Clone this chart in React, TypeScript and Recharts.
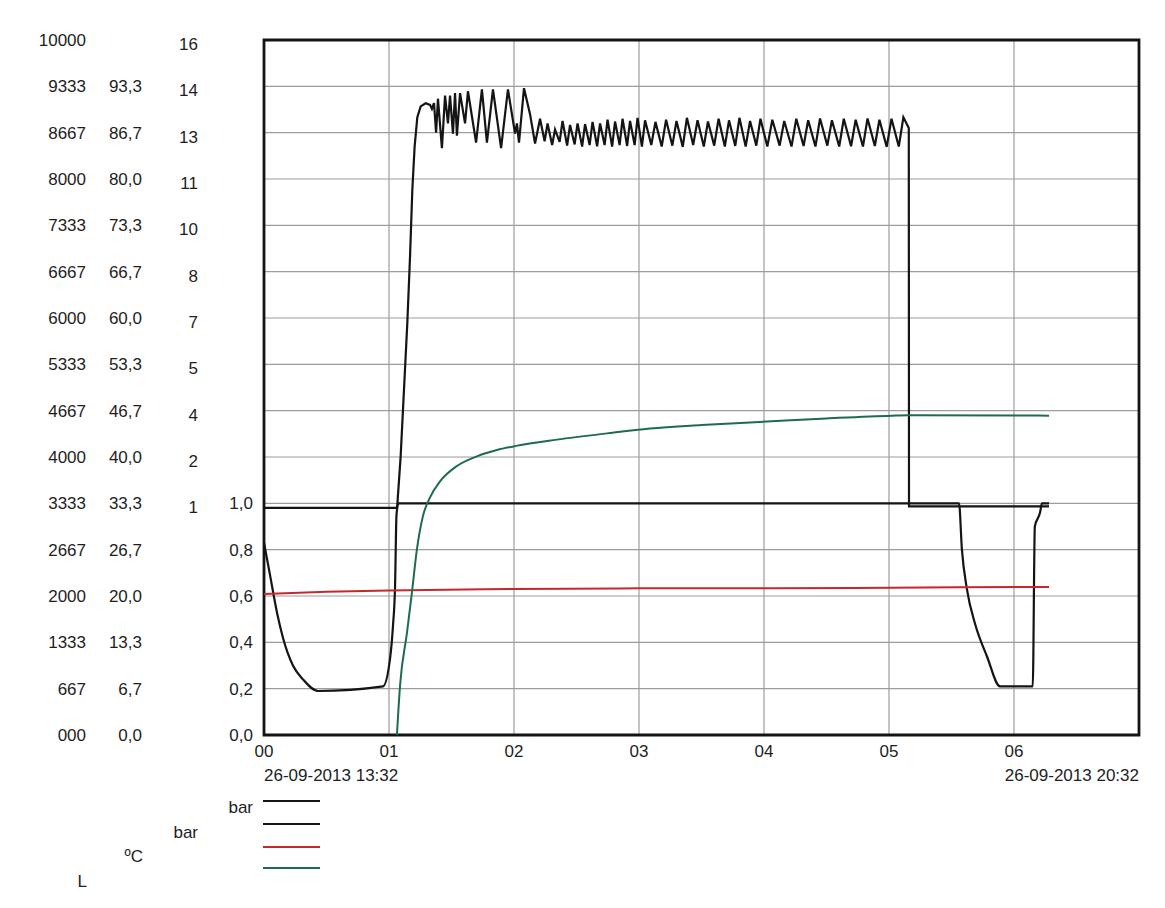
import React from 'react';
import { LineChart, Line, XAxis, YAxis, CartesianGrid, ReferenceArea, Legend } from 'recharts';

// time axis in minutes from 26-09-2013 13:32
const HOUR_TICKS = [0, 60, 120, 180, 240, 300, 360, 420];
const HOUR_LABELS = ['00', '01', '02', '03', '04', '05', '06', ''];
const START_LABEL = '26-09-2013 13:32';
const END_LABEL = '26-09-2013 20:32';

// low bar scale, one tick per grid row (bottom to top)
const BAR_TICKS = [0, 0.2, 0.4, 0.6, 0.8, 1.0, 1.2, 1.4, 1.6, 1.8, 2.0, 2.2, 2.4, 2.6, 2.8, 3.0];
const LITRE_LABELS = ['000', '667', '1333', '2000', '2667', '3333', '4000', '4667', '5333', '6000', '6667', '7333', '8000', '8667', '9333', '10000'];
const CELSIUS_LABELS = ['0,0', '6,7', '13,3', '20,0', '26,7', '33,3', '40,0', '46,7', '53,3', '60,0', '66,7', '73,3', '80,0', '86,7', '93,3', ''];
const BAR_HIGH_LABELS = ['', '', '', '', '', '1', '2', '4', '5', '7', '8', '10', '11', '13', '14', '16'];
const BAR_LOW_LABELS = ['0,0', '0,2', '0,4', '0,6', '0,8', '1,0', '', '', '', '', '', '', '', '', '', ''];

const SERIES_NAMES = ['vacuum', 'pressure', 'temperature', 'level'];
const LEGEND_UNITS = ['bar', 'bar', 'ºC', 'L'];

// [minutes, value]
const VACUUM: [number, number][] = [
  [0, 0.83], [2.9, 0.69], [6.2, 0.53], [9.1, 0.42], [13.9, 0.3], [18.7, 0.24], [25.9, 0.19],
  [57.1, 0.21], [60.5, 0.33], [61.9, 0.47], [62.9, 0.64], [63.6, 0.95], [64.5, 1.0],
  [333.6, 1.0], [335, 0.8], [337.4, 0.63], [341.3, 0.48], [347, 0.34], [353.3, 0.21],
  [369, 0.21], [370, 0.9], [372.5, 0.96], [373.4, 1.0], [376.8, 1.0],
];

const PRESSURE: [number, number][] = [
  [0, 0.85], [63.8, 0.85], [64.0, 0.96], [65.6, 2.53], [67.2, 4.69], [68.8, 6.85], [70.1, 9.0],
  [71.2, 11.15], [72.3, 12.55], [73.6, 13.5], [75.2, 13.85], [77.6, 13.95], [79.7, 13.9],
  [80.6, 13.77], [81.6, 13.96], [82.6, 13.0], [83.5, 14.1], [85.4, 12.5], [86.9, 14.2],
  [88.3, 13.3], [89.3, 14.2], [90.7, 12.97], [91.7, 14.28], [92.6, 12.9], [94.1, 14.28],
  [96.5, 13.3], [97.9, 14.34], [101.8, 12.68], [104.6, 14.4], [107.0, 12.68], [109.9, 14.4],
  [113.8, 12.5], [117.1, 14.4], [120.5, 12.97], [121.4, 13.3], [122.4, 12.68], [124.8, 14.44],
  [127.7, 13.6], [130.1, 12.65],
  [132.5, 13.45], [134.7, 12.72], [136.1, 13.3], [138.3, 12.6], [139.7, 13.1], [141.9, 12.7],
  [143.3, 13.38], [145.5, 12.58], [146.9, 13.25], [149.1, 12.62], [150.5, 13.3], [152.7, 12.55],
  [154.1, 13.28], [156.3, 12.6], [157.7, 13.35], [159.9, 12.56], [161.3, 13.3], [163.5, 12.6],
  [164.9, 13.42], [167.1, 12.55], [168.5, 13.36], [170.7, 12.6], [172.1, 13.45], [174.3, 12.57],
  [175.7, 13.38], [177.9, 12.6], [179.3, 13.48], [181.4, 12.55],
  [182.9, 13.4], [185.9, 12.6], [187.9, 13.35], [190.9, 12.55], [193.0, 13.42], [196.0, 12.58],
  [198.0, 13.38], [201.0, 12.54], [203.0, 13.48], [206.0, 12.6], [208.1, 13.4], [211.1, 12.55],
  [213.1, 13.36], [216.1, 12.58], [218.2, 13.45], [221.2, 12.55], [223.2, 13.4], [226.2, 12.57],
  [228.2, 13.48], [231.2, 12.55], [233.3, 13.38], [236.3, 12.58], [238.3, 13.45], [241.6, 12.55],
  [244.0, 13.42], [247.5, 12.58], [249.7, 13.38], [253.2, 12.55], [255.5, 13.45], [259.0, 12.57],
  [261.2, 13.4], [264.7, 12.55], [266.9, 13.46], [270.4, 12.58], [272.6, 13.4], [276.1, 12.55],
  [278.3, 13.45], [281.8, 12.56], [284.0, 13.42], [287.5, 12.55], [289.7, 13.46], [293.2, 12.57],
  [295.4, 13.42], [298.9, 12.54], [301.2, 13.45], [304.7, 12.55], [306.9, 13.5], [309.5, 13.15],
  [309.6, 0.9], [376.8, 0.9],
];

const TEMPERATURE: [number, number][] = [
  [0, 20.3], [30, 20.6], [60, 20.8], [120, 21.0], [180, 21.1], [240, 21.1], [300, 21.2], [376.8, 21.3],
];

const LEVEL: [number, number][] = [
  [63.8, 0], [65.3, 710], [68.6, 1465], [71.0, 2050], [73.4, 2670], [76.3, 3150], [79.7, 3420],
  [84.5, 3650], [92.6, 3870], [102.2, 4010], [111.8, 4100], [121, 4160], [140.6, 4250],
  [164.6, 4340], [185.3, 4410], [210, 4460], [241.4, 4510], [270, 4555], [301.4, 4595],
  [309.1, 4600], [376.8, 4595],
];

const toPoints = (rows: [number, number][]) => rows.map(([t, v]) => ({ t, v }));

const FONT = '"Liberation Sans", Arial, sans-serif';
const TEXT = '#1e1e1e';
const INK = '#141414';
const RED = '#c4282c';
const GREEN = '#1f6b4e';
const SERIES_COLORS = [INK, INK, RED, GREEN];

const RowTick = (props: any) => {
  const i = Math.round((props.payload.value as number) / 0.2);
  const y = props.y;
  const style = { fontFamily: FONT, fontSize: 17, fill: TEXT };
  return (
    <g>
      <text x={86} y={y} dy="0.36em" textAnchor="end" {...style}>{LITRE_LABELS[i]}</text>
      <text x={142} y={y} dy="0.36em" textAnchor="end" {...style}>{CELSIUS_LABELS[i]}</text>
      <text x={198} y={y + 4} dy="0.36em" textAnchor="end" {...style}>{BAR_HIGH_LABELS[i]}</text>
      <text x={253} y={y} dy="0.36em" textAnchor="end" {...style}>{BAR_LOW_LABELS[i]}</text>
    </g>
  );
};

const HourTick = (props: any) => {
  const v = props.payload.value as number;
  const idx = HOUR_TICKS.indexOf(v);
  const style = { fontFamily: FONT, fontSize: 17, fill: TEXT };
  return (
    <g>
      <text x={props.x} y={757} textAnchor="middle" {...style}>{HOUR_LABELS[idx]}</text>
      {v === 0 && <text x={props.x} y={781} textAnchor="start" {...style}>{START_LABEL}</text>}
      {v === 420 && <text x={props.x} y={781} textAnchor="end" {...style}>{END_LABEL}</text>}
    </g>
  );
};

const LegendBlock = ({ payload }: any) => {
  const lineY = [11, 34, 57, 78];
  const labelX = [253, 198, 143, 87];
  const labelY = [23, 48, 72, 97];
  const entries = SERIES_NAMES.map((name, i) => {
    const found = (payload || []).find((p: any) => p.value === name);
    return { color: found ? found.color : SERIES_COLORS[i], unit: LEGEND_UNITS[i] };
  });
  return (
    <svg width={400} height={110}>
      {entries.map((entry, i) => (
        <g key={`lg-${i}`}>
          <line x1={263} x2={320} y1={lineY[i]} y2={lineY[i]} stroke={entry.color} strokeWidth={2} />
          <text x={labelX[i]} y={labelY[i]} textAnchor="end" fontFamily={FONT} fontSize={17} fill={TEXT}>
            {entry.unit}
          </text>
        </g>
      ))}
    </svg>
  );
};

export default function App() {
  return (
    <div style={{ position: 'absolute', left: 0, top: 0, background: '#fff' }}>
      <LineChart width={1165} height={908} margin={{ top: 40, right: 26, bottom: 128, left: 0 }}>
        <CartesianGrid yAxisId="vac" stroke="#9c9c9c" strokeWidth={1.2} />
        <XAxis
          dataKey="t"
          type="number"
          domain={[0, 420]}
          ticks={HOUR_TICKS}
          interval={0}
          height={45}
          axisLine={false}
          tickLine={false}
          tick={<HourTick />}
        />
        <YAxis
          yAxisId="vac"
          type="number"
          domain={[0, 3]}
          ticks={BAR_TICKS}
          interval={0}
          width={264}
          axisLine={false}
          tickLine={false}
          tick={<RowTick />}
        />
        <YAxis yAxisId="prs" hide domain={[-6.5, 16]} />
        <YAxis yAxisId="tmp" hide domain={[0, 100]} />
        <YAxis yAxisId="lvl" hide domain={[0, 10000]} />
        <ReferenceArea yAxisId="vac" x1={0} x2={420} y1={0} y2={3} fill="none" fillOpacity={0} stroke={INK} strokeWidth={2.8} />
        <Line yAxisId="vac" data={toPoints(VACUUM)} dataKey="v" name="vacuum" stroke={INK} strokeWidth={2.2} dot={false} type="monotone" isAnimationActive={false} />
        <Line yAxisId="prs" data={toPoints(PRESSURE)} dataKey="v" name="pressure" stroke={INK} strokeWidth={2.2} dot={false} type="linear" isAnimationActive={false} />
        <Line yAxisId="tmp" data={toPoints(TEMPERATURE)} dataKey="v" name="temperature" stroke={RED} strokeWidth={2} dot={false} type="monotone" isAnimationActive={false} />
        <Line yAxisId="lvl" data={toPoints(LEVEL)} dataKey="v" name="level" stroke={GREEN} strokeWidth={2} dot={false} type="monotone" isAnimationActive={false} />
        <Legend
          layout="horizontal"
          verticalAlign="middle"
          align="center"
          content={<LegendBlock />}
          wrapperStyle={{ position: 'absolute', left: 0, top: 790, width: 400, height: 110 }}
        />
      </LineChart>
    </div>
  );
}
